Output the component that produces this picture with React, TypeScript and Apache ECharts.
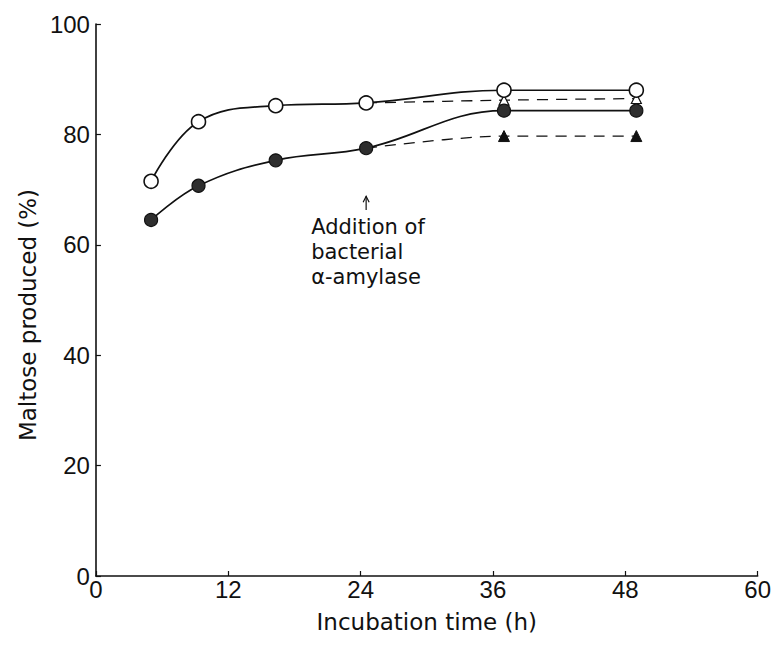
import React, { useEffect, useRef } from "react";
import * as echarts from "echarts";

const hours = [5, 9.3, 16.3, 24.5, 37, 49];
const openCircleValues = [71.5, 82.3, 85.2, 85.7, 88, 88];
const filledCircleValues = [64.5, 70.7, 75.3, 77.5, 84.3, 84.3];
const dashedHours = [24.5, 37, 49];
const openTriangleValues = [85.7, 86.2, 86.5];
const filledTriangleValues = [77.5, 79.7, 79.7];
const xTicks = [0, 12, 24, 36, 48, 60];
const yTicks = [0, 20, 40, 60, 80, 100];
const annotationLines = ["Addition of", "bacterial", "\u03b1-amylase"];
const additionHour = 24.5;
const arrowFrom = 66.3;
const arrowTo = 68.8;

const NUM_FONT = "'Liberation Sans', Arial, Helvetica, sans-serif";
const TEXT_FONT = "'DejaVu Sans', 'Liberation Sans', sans-serif";

function pairs(xs: number[], ys: number[]) {
  return xs.map((x, i) => [x, ys[i]]);
}

export default function App() {
  const ref = useRef<HTMLDivElement>(null);
  useEffect(() => {
    if (!ref.current) return;
    const chart = echarts.init(ref.current, null, { renderer: "svg" });
    const axisCommon = {
      axisLine: { show: true, lineStyle: { color: "#111", width: 1.6 } },
      axisTick: { show: true, inside: true, length: 5, lineStyle: { color: "#111", width: 1.2 } },
      splitLine: { show: false },
      axisLabel: { color: "#111", fontSize: 24, lineHeight: 18, fontFamily: NUM_FONT },
      nameTextStyle: { color: "#111", fontSize: 23, fontFamily: TEXT_FONT },
    };
    const dashedData = (vals: number[], sym: string) =>
      pairs(dashedHours, vals).map((p, i) => ({
        value: p,
        symbol: i === 0 ? "none" : sym,
      }));
    chart.setOption({
      animation: false,
      backgroundColor: "#fff",
      grid: { left: 78, right: 10, top: 16, bottom: 54, containLabel: false },
      xAxis: {
        type: "value",
        min: 0,
        max: 60,
        interval: 12,
        name: "Incubation time (h)",
        nameLocation: "middle",
        nameGap: 34,
        ...axisCommon,
        axisLabel: { ...axisCommon.axisLabel, margin: 4, formatter: (v: number) => (xTicks.includes(v) ? String(v) : "") },
      },
      yAxis: {
        type: "value",
        min: 0,
        max: 100,
        interval: 20,
        name: "Maltose produced (%)",
        nameLocation: "middle",
        nameGap: 50,
        ...axisCommon,
        nameTextStyle: { ...axisCommon.nameTextStyle, padding: [0, 30, 0, 0] },
        axisLabel: { ...axisCommon.axisLabel, margin: 6, formatter: (v: number) => (yTicks.includes(v) ? String(v) : "") },
      },
      series: [
        {
          type: "line",
          data: dashedData(openTriangleValues, "triangle"),
          smooth: 0.3,
          symbolSize: 10,
          itemStyle: { color: "#fff", borderColor: "#111", borderWidth: 1.2 },
          lineStyle: { color: "#111", width: 1.3, type: [11, 8] },
          z: 2,
        },
        {
          type: "line",
          data: dashedData(filledTriangleValues, "triangle"),
          smooth: 0.3,
          symbolSize: 11,
          itemStyle: { color: "#111", borderColor: "#111", borderWidth: 1 },
          lineStyle: { color: "#111", width: 1.3, type: [11, 8] },
          z: 2,
        },
        {
          type: "line",
          data: pairs(hours, filledCircleValues),
          smooth: 0.4,
          symbol: "circle",
          symbolSize: 13,
          itemStyle: { color: "#2e2e2e", borderColor: "#111", borderWidth: 1.2 },
          lineStyle: { color: "#111", width: 1.7 },
          z: 3,
        },
        {
          type: "line",
          data: pairs(hours, openCircleValues),
          smooth: 0.4,
          symbol: "circle",
          symbolSize: 14,
          itemStyle: { color: "#fff", borderColor: "#111", borderWidth: 1.6 },
          lineStyle: { color: "#111", width: 1.7 },
          z: 4,
        },
      ],
    });

    const top = chart.convertToPixel({ gridIndex: 0 }, [additionHour, arrowTo]) as number[];
    const bottom = chart.convertToPixel({ gridIndex: 0 }, [additionHour, arrowFrom]) as number[];
    chart.setOption({
      graphic: [
        {
          type: "line",
          shape: { x1: top[0], y1: top[1], x2: bottom[0], y2: bottom[1] },
          style: { stroke: "#111", lineWidth: 1.2 },
        },
        {
          type: "polyline",
          shape: { points: [[top[0] - 3, top[1] + 6], [top[0], top[1]], [top[0] + 3, top[1] + 6]] },
          style: { stroke: "#111", lineWidth: 1.2, fill: "none" },
        },
        {
          type: "text",
          x: bottom[0] - 55,
          y: bottom[1] + 4,
          style: {
            text: annotationLines.join("\n"),
            fill: "#111",
            fontSize: 21,
            lineHeight: 25,
            fontFamily: TEXT_FONT,
            verticalAlign: "top",
            align: "left",
          },
        },
      ],
    });
    return () => chart.dispose();
  }, []);
  return <div ref={ref} style={{ width: 766, height: 630 }} />;
}
